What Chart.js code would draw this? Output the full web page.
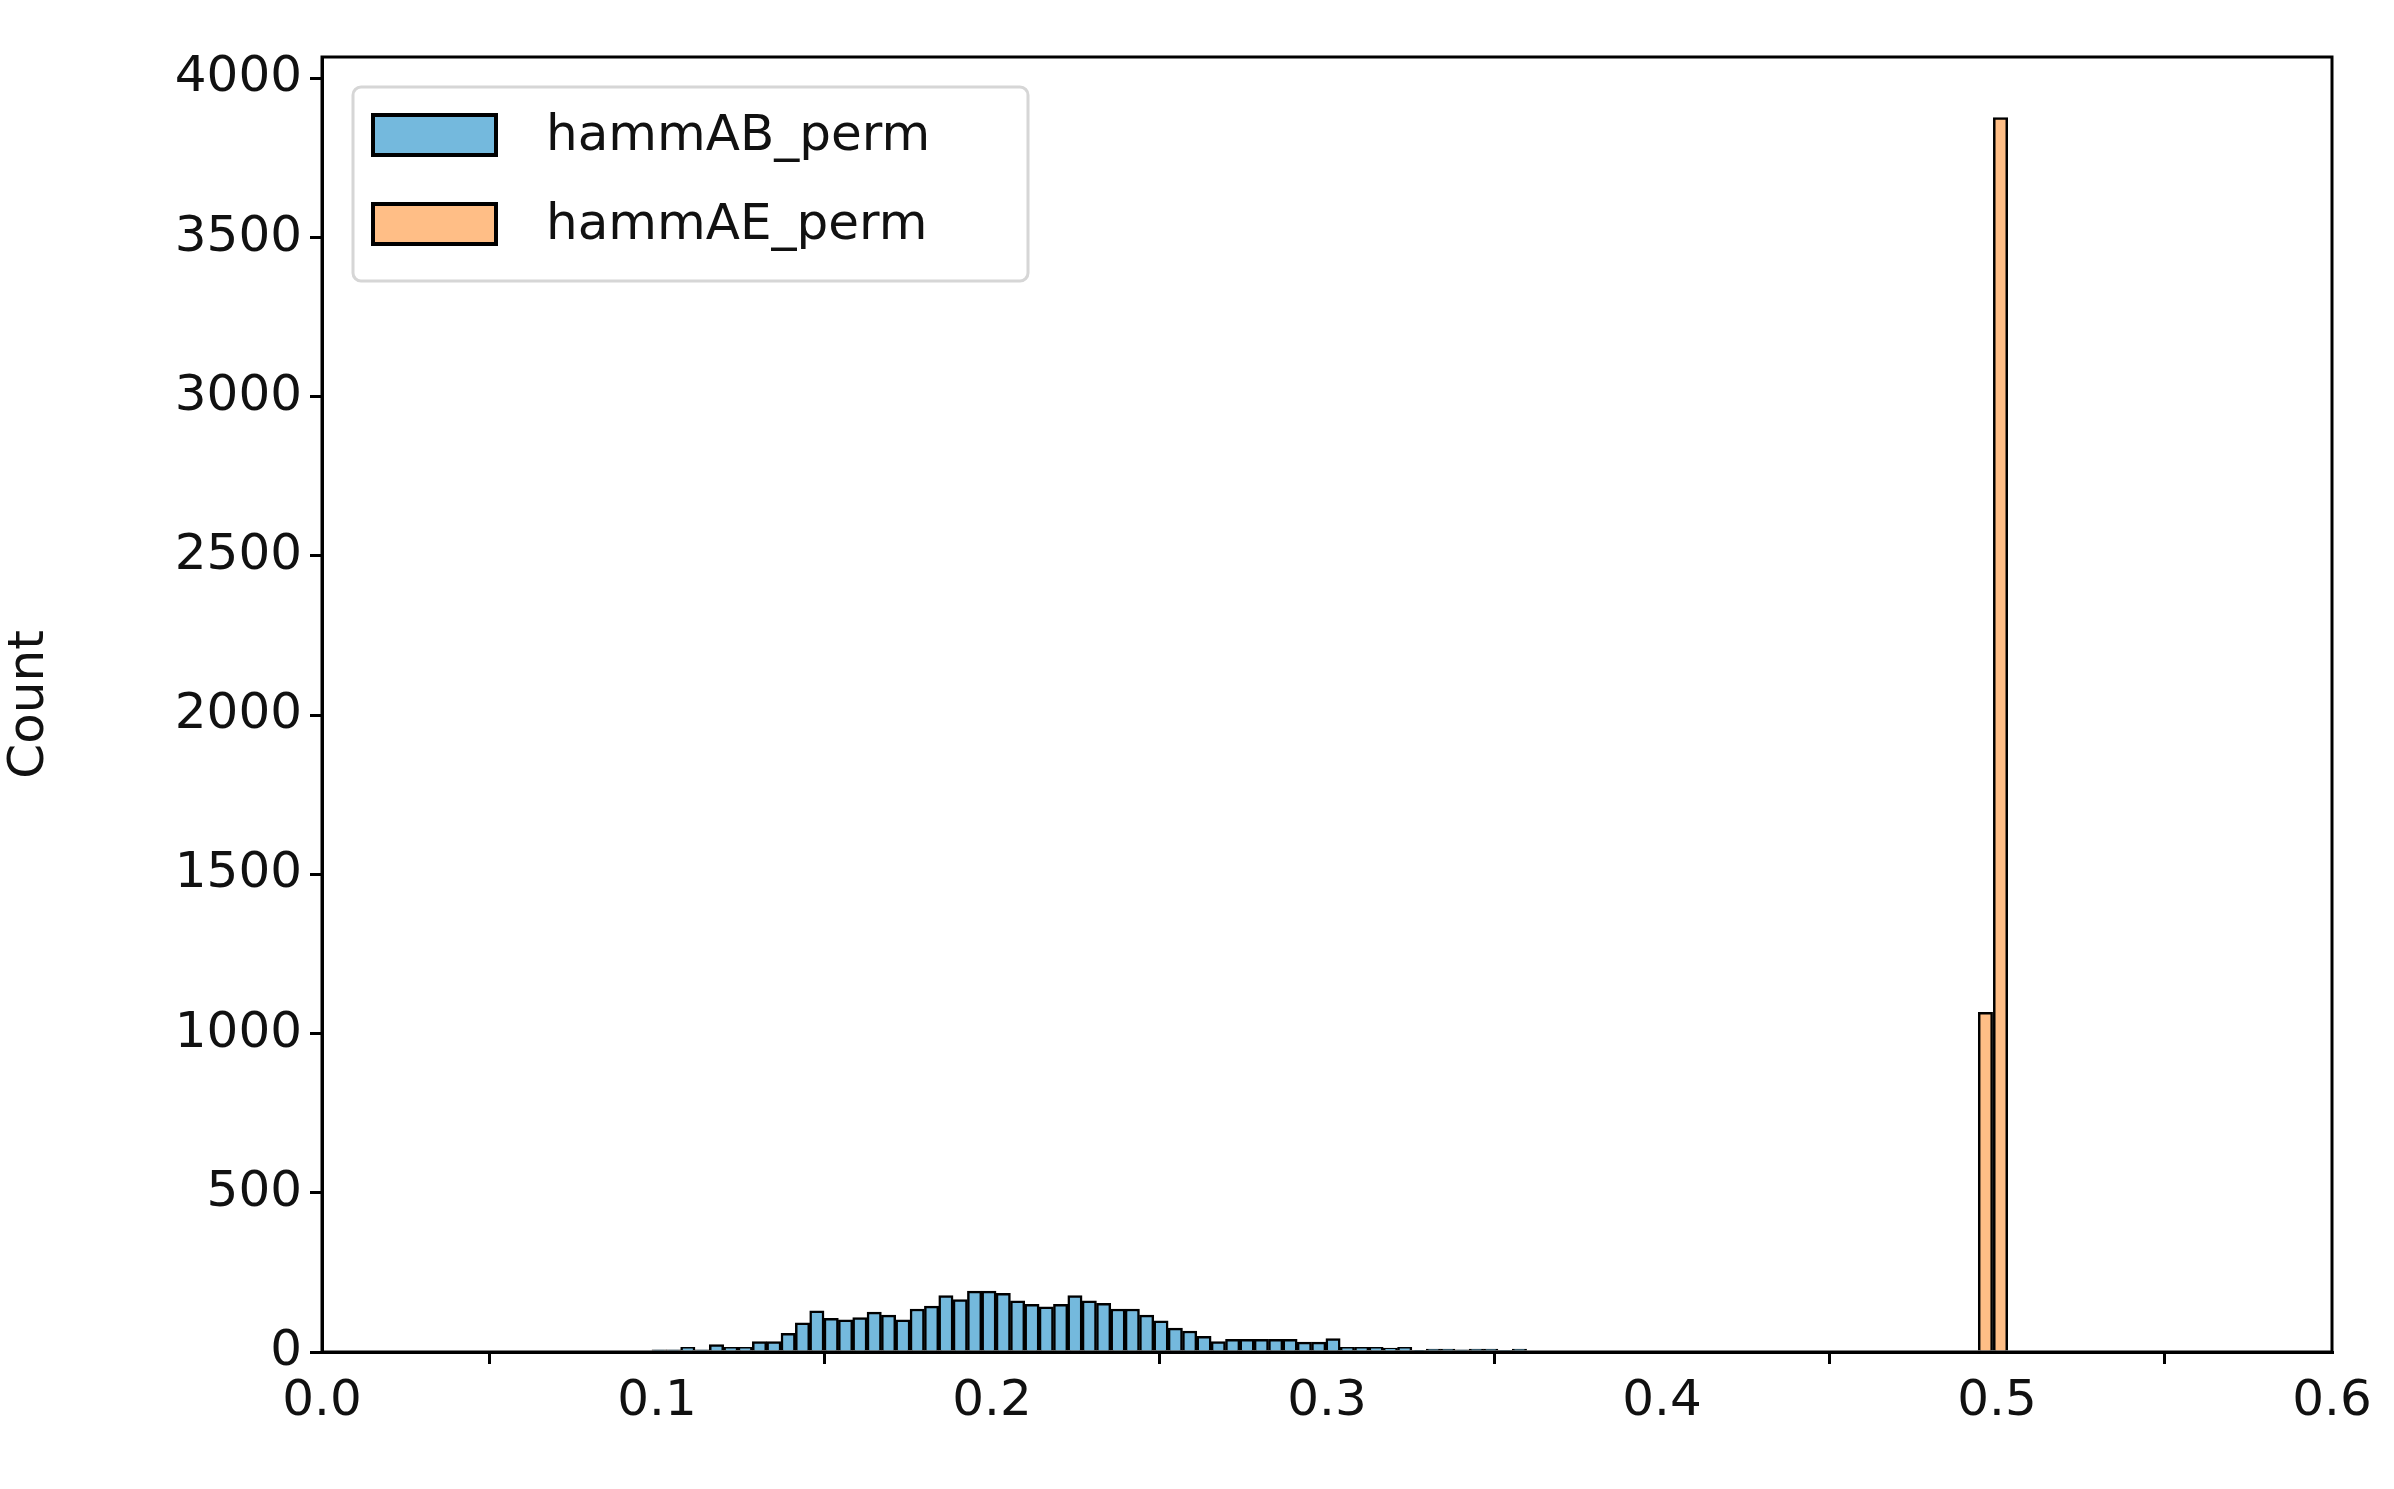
<!DOCTYPE html>
<html><head><meta charset="utf-8">
<script src="https://cdn.jsdelivr.net/npm/chart.js@4"></script>
<style>html,body{margin:0;padding:0;background:#fff}#w{width:2394px;height:1489px}</style>
</head><body><div id="w"><canvas id="c" width="2394" height="1489"></canvas></div>
<script>
const blueStart = 0.0985, blueWidth = 0.00428;
const blueCounts = [7,7,15,7,23,15,15,33,33,59,92,129,106,101,108,125,116,101,135,144,177,165,191,191,184,161,150,142,150,177,161,153,135,135,116,98,75,66,49,33,40,40,40,40,40,31,31,42,15,15,15,12,15,4,9,9,7,9,9,2,9];
const orangeStart = 0.4943, orangeWidth = 0.0045;
const orangeCounts = [1067,3877];
const xTicks = [0,0.1,0.2,0.3,0.4,0.5,0.6];
const yTicks = [0,500,1000,1500,2000,2500,3000,3500,4000];
const names = ['hammAB_perm','hammAE_perm'];
const blueColor = 'rgba(116,185,221,1)', orangeColor = 'rgba(255,190,134,1)';

const blueData = blueCounts.map((v,i)=>({x: blueStart + (i+0.5)*blueWidth, y: v}));
const orangeData = orangeCounts.map((v,i)=>({x: orangeStart + (i+0.5)*orangeWidth, y: v}));
const F = 'DejaVu Sans';

const frame = {
  id:'frame',
  afterDraw(ch){
    const c=ch.ctx,a=ch.chartArea;
    c.save();c.strokeStyle='#000';c.lineWidth=3;
    c.strokeRect(a.left,a.top,a.right-a.left,a.bottom-a.top);
    const lx=a.left+31,ly=a.top+30,lw=675,lh=194;
    c.fillStyle='rgba(255,255,255,0.85)';c.strokeStyle='#d6d6d6';c.lineWidth=3;
    c.beginPath();c.roundRect(lx,ly,lw,lh,8);c.fill();c.stroke();
    const cols=[blueColor,orangeColor];
    c.font='50px "'+F+'"';c.textBaseline='middle';
    for(let i=0;i<2;i++){
      const y=ly+48+i*89;
      c.fillStyle=cols[i];c.fillRect(lx+20,y-20,123,40);
      c.strokeStyle='#000';c.lineWidth=4;c.strokeRect(lx+20,y-20,123,40);
      c.fillStyle='#111';c.fillText(names[i],lx+193,y+2);
    }
    c.restore();
  }
};

new Chart(document.getElementById('c'),{
  type:'bar',
  data:{datasets:[
    {label:names[0],data:blueData,backgroundColor:blueColor,borderColor:'#000',borderWidth:2.5,grouped:false,barPercentage:1,categoryPercentage:1,borderSkipped:'bottom'},
    {label:names[1],data:orangeData,backgroundColor:orangeColor,borderColor:'#000',borderWidth:2.5,grouped:false,barPercentage:1,categoryPercentage:1,borderSkipped:'bottom'}
  ]},
  options:{
    responsive:false,animation:false,devicePixelRatio:1,
    layout:{padding:{top:57,right:62,left:0,bottom:0}},
    plugins:{legend:{display:false},tooltip:{enabled:false}},
    scales:{
      x:{type:'linear',min:0,max:0.6,offset:false,
        afterBuildTicks(s){s.ticks=xTicks.map(v=>({value:v}));},
        afterFit(s){s.height=137;},
        grid:{display:true,drawOnChartArea:false,drawTicks:true,tickLength:12,lineWidth:3,color:'#000'},
        border:{display:true,color:'#000',width:3},
        ticks:{color:'#111',font:{family:F,size:50},padding:8,maxRotation:0,callback:v=>v.toFixed(1)}},
      y:{type:'linear',min:0,max:4067,
        afterBuildTicks(s){s.ticks=yTicks.map(v=>({value:v}));},
        afterFit(s){s.width=322;},
        grid:{display:true,drawOnChartArea:false,drawTicks:true,tickLength:12,lineWidth:3,color:'#000'},
        border:{display:true,color:'#000',width:3},
        title:{display:true,text:'Count',color:'#111',font:{family:F,size:50},padding:{top:0,bottom:0}},
        ticks:{color:'#111',font:{family:F,size:50},padding:8,callback:v=>String(v)}}
    }
  },
  plugins:[frame]
});
</script></body></html>
